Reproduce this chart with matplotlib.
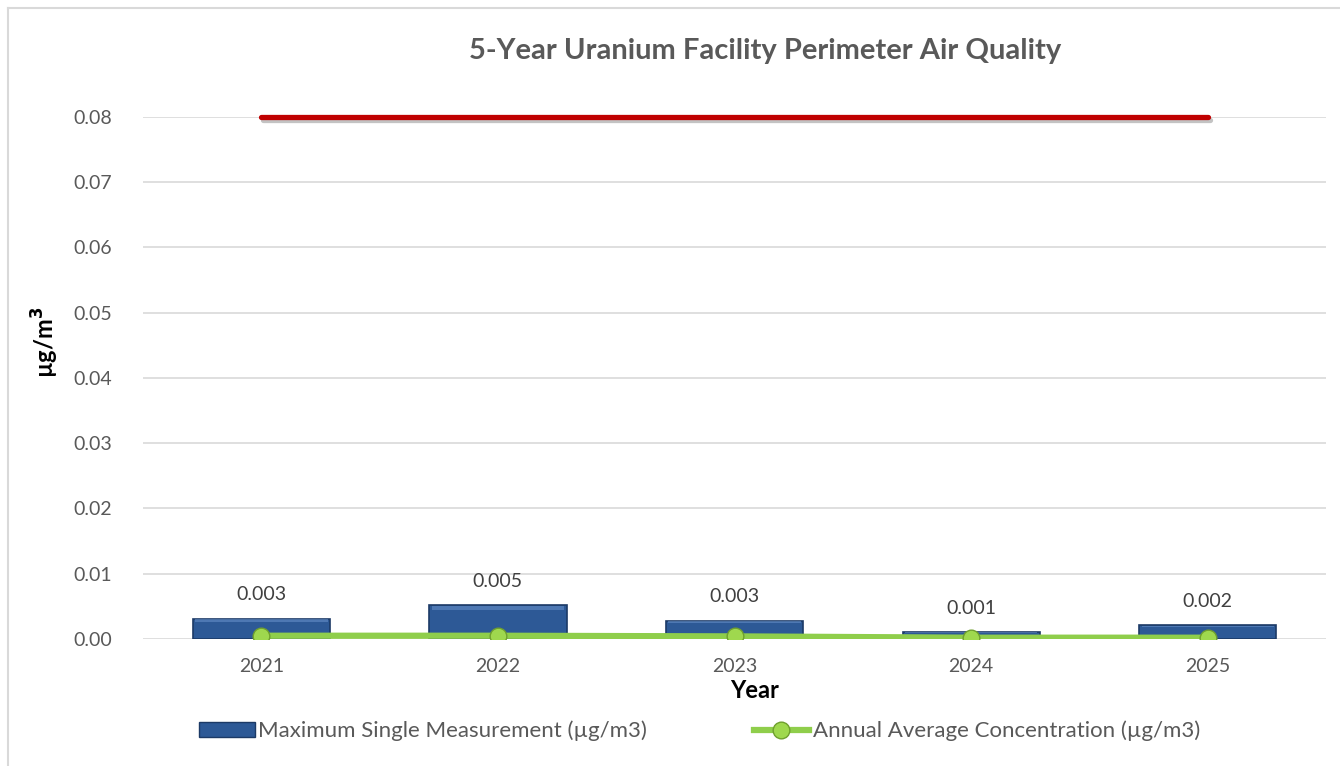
import matplotlib
matplotlib.use("Agg")
import matplotlib.pyplot as plt
import matplotlib.patheffects as pe
from matplotlib.lines import Line2D
from matplotlib.patches import Rectangle
import numpy as np

years = ["2021", "2022", "2023", "2024", "2025"]
max_single = [0.0031, 0.0052, 0.0028, 0.0011, 0.0021]
max_labels = ["0.003", "0.005", "0.003", "0.001", "0.002"]
annual_avg = [0.0005, 0.0005, 0.0004, 0.0002, 0.0002]
limit = [0.08, 0.08, 0.08, 0.08, 0.08]
yticks = [0.0, 0.01, 0.02, 0.03, 0.04, 0.05, 0.06, 0.07, 0.08]

plt.rcParams['font.family'] = ['Lato', 'DejaVu Sans']
gray = '#595959'

fig = plt.figure(figsize=(13.4, 7.66), dpi=100)
ax = fig.add_axes([0.1067, 0.1658, 0.8829, 0.6815])

x = np.arange(len(years))
ax.bar(x, max_single, width=0.58, color='#2d5996', edgecolor='#1c3a66',
       linewidth=1.2, zorder=3)
# bevel highlight near top edge
for xi, v in zip(x, max_single):
    ax.add_patch(Rectangle((xi - 0.28, v * 0.86), 0.56, v * 0.12, facecolor='#6a93cc',
                           edgecolor='none', alpha=0.55, zorder=3.5))

for xi, v, lab in zip(x, max_single, max_labels):
    ax.annotate(lab, (xi, v), xytext=(0, 11), textcoords='offset points',
                ha='center', va='bottom', fontsize=14, color='#404040')

ax.plot(x, annual_avg, color='#8fce4b', linewidth=4.5, marker='o', markersize=12,
        markerfacecolor='#9fd84e', markeredgecolor='#6f9f2e', markeredgewidth=1,
        zorder=4, solid_capstyle='butt')

ax.plot(x, limit, color='#c00000', linewidth=3.8, zorder=4, clip_on=False,
        solid_capstyle='round',
        path_effects=[pe.SimpleLineShadow(offset=(1.5, -2.5), shadow_color='#888888', alpha=0.5),
                      pe.Normal()])

ax.set_xlim(-0.5, 4.5)
ax.set_ylim(0, 0.08)
ax.set_yticks(yticks)
ax.set_yticklabels([f"{t:.2f}" for t in yticks])
ax.set_xticks(x)
ax.set_xticklabels(years)
ax.tick_params(axis='both', length=0, labelsize=14, colors=gray)
ax.tick_params(axis='x', pad=14)
ax.tick_params(axis='y', pad=22)
ax.grid(axis='y', color='#d9d9d9', linewidth=1.2, zorder=0)
ax.set_axisbelow(True)
for s in ax.spines.values():
    s.set_visible(False)

fig.text(45/1340, 1 - 342/766, 'µg/m$^\\mathbf{3}$', rotation=90, ha='center', va='center',
         fontsize=17, fontweight='bold', color='black')
fig.text(755/1340, 1 - 690/766, 'Year', ha='center', va='center',
         fontsize=17, fontweight='bold', color='black')

fig.text(765/1340, 0.933, '5-Year Uranium Facility Perimeter Air Quality', ha='center', va='center',
         fontsize=21, fontweight='bold', color=gray)

h1 = Rectangle((0, 0), 1, 1, facecolor='#2d5996', edgecolor='#1c3a66')
h2 = Line2D([0], [0], color='#8fce4b', linewidth=4.5, marker='o', markersize=12,
            markerfacecolor='#9fd84e', markeredgecolor='#6f9f2e')
leg = fig.legend([h1, h2], ['Maximum Single Measurement (µg/m3)', 'Annual Average Concentration (µg/m3)'],
                 loc='center', bbox_to_anchor=(0.522, 1 - 731/766), ncol=2, frameon=False,
                 fontsize=16, handlelength=2.5, handletextpad=0.15, columnspacing=4.8)
for t in leg.get_texts():
    t.set_color(gray)

# outer border (left and top)
fig.add_artist(Line2D([8/1340, 8/1340], [0, 1 - 8/766], transform=fig.transFigure, color='#d9d9d9', linewidth=1.5))
fig.add_artist(Line2D([8/1340, 1], [1 - 8/766, 1 - 8/766], transform=fig.transFigure, color='#d9d9d9', linewidth=1.5))

fig.savefig('out.png', dpi=100)
